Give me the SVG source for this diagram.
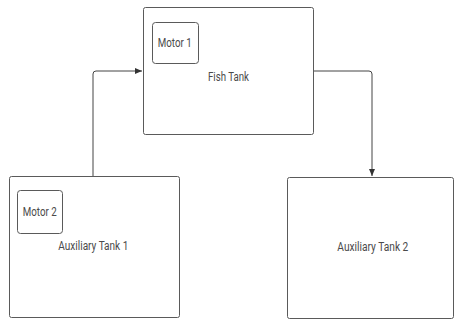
<svg xmlns="http://www.w3.org/2000/svg" width="454" height="322" viewBox="0 0 454 322">
<style>
.box{fill:#fff;stroke:#5a5a5a;stroke-width:1}
.motor{fill:#fff;stroke:#5a5a5a;stroke-width:1}
.lbl{font-family:"Roboto","Liberation Sans",sans-serif;font-size:12.5px;fill:#4a4a4a;text-anchor:middle;dominant-baseline:central}
.conn{fill:none;stroke:#444;stroke-width:1}
</style>
<defs>
<marker id="arr" markerWidth="8" markerHeight="8" refX="7" refY="4" orient="auto" markerUnits="userSpaceOnUse">
<path d="M0,1 L7,4 L0,7 Z" fill="#333"/>
</marker>
</defs>
<rect width="454" height="322" fill="#fff"/>
<g id="connectors">
<path class="conn" d="M93,176 V74 Q93,71 96,71 H142" marker-end="url(#arr)"/>
<path class="conn" d="M313,71 H369 Q372,71 372,74 V176" marker-end="url(#arr)"/>
</g>
<g id="fish-tank">
<rect class="box" x="143.5" y="7.5" width="170" height="127" rx="2"/>
<text class="lbl" x="228.5" y="76" textLength="41" lengthAdjust="spacingAndGlyphs">Fish Tank</text>
</g>
<g id="motor-1">
<rect class="motor" x="152.5" y="22.5" width="46" height="41" rx="3"/>
<text class="lbl" x="174.7" y="42" textLength="34" lengthAdjust="spacingAndGlyphs">Motor 1</text>
</g>
<g id="aux-tank-1">
<rect class="box" x="9.5" y="176.5" width="170" height="141" rx="2"/>
<text class="lbl" x="93.3" y="245" textLength="70" lengthAdjust="spacingAndGlyphs">Auxiliary Tank 1</text>
</g>
<g id="motor-2">
<rect class="motor" x="17.5" y="190.5" width="45" height="43" rx="3"/>
<text class="lbl" x="39.7" y="211" textLength="34" lengthAdjust="spacingAndGlyphs">Motor 2</text>
</g>
<g id="aux-tank-2">
<rect class="box" x="287.5" y="177.5" width="166" height="141" rx="2"/>
<text class="lbl" x="372.8" y="246" textLength="71" lengthAdjust="spacingAndGlyphs">Auxiliary Tank 2</text>
</g>
</svg>
